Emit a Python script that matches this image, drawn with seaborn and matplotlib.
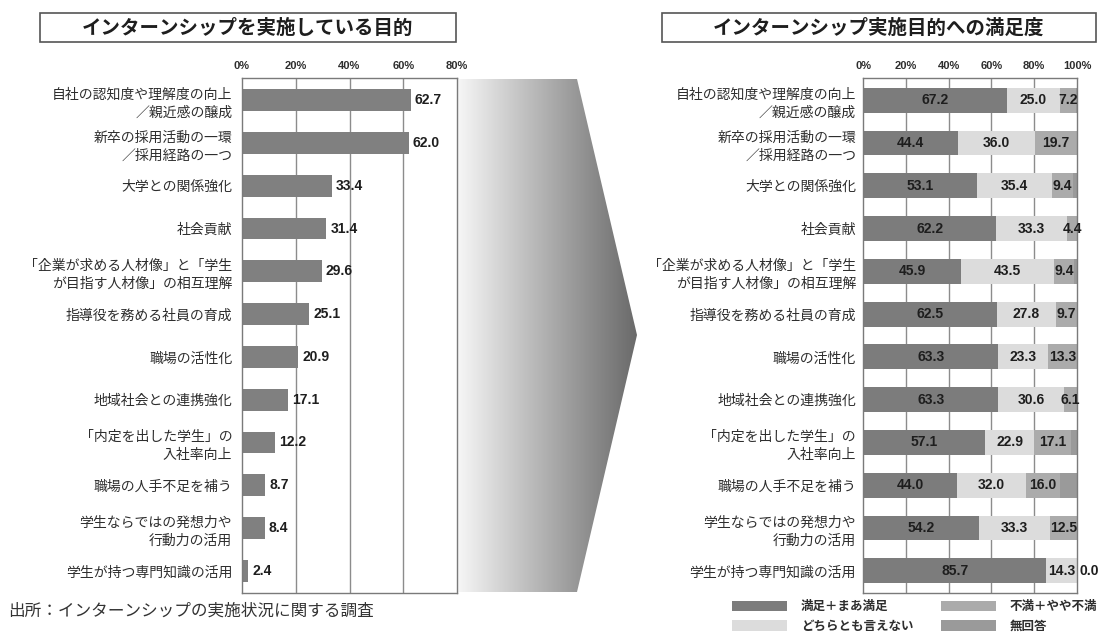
import numpy as np
import pandas as pd
import matplotlib
matplotlib.use("Agg")
import matplotlib.pyplot as plt
from matplotlib.patches import Polygon, Rectangle, Patch
from matplotlib.colors import LinearSegmentedColormap
import seaborn as sns

# ---- data ----
categories = [
    "自社の認知度や理解度の向上\n／親近感の醸成",
    "新卒の採用活動の一環\n／採用経路の一つ",
    "大学との関係強化",
    "社会貢献",
    "「企業が求める人材像」と「学生\nが目指す人材像」の相互理解",
    "指導役を務める社員の育成",
    "職場の活性化",
    "地域社会との連携強化",
    "「内定を出した学生」の\n入社率向上",
    "職場の人手不足を補う",
    "学生ならではの発想力や\n行動力の活用",
    "学生が持つ専門知識の活用",
]
purpose_pct = [62.7, 62.0, 33.4, 31.4, 29.6, 25.1, 20.9, 17.1, 12.2, 8.7, 8.4, 2.4]

satisfied = [67.2, 44.4, 53.1, 62.2, 45.9, 62.5, 63.3, 63.3, 57.1, 44.0, 54.2, 85.7]
neutral = [25.0, 36.0, 35.4, 33.3, 43.5, 27.8, 23.3, 30.6, 22.9, 32.0, 33.3, 14.3]
dissatisfied = [7.2, 19.7, 9.4, 4.4, 9.4, 9.7, 13.3, 6.1, 17.1, 16.0, 12.5, 0.0]
no_answer = [0.6, 0.0, 2.1, 0.1, 1.2, 0.0, 0.1, 0.0, 2.9, 8.0, 0.0, 0.0]

left_ticks = [0, 20, 40, 60, 80]
right_ticks = [0, 20, 40, 60, 80, 100]

title_left = "インターンシップを実施している目的"
title_right = "インターンシップ実施目的への満足度"
source_note = "出所：インターンシップの実施状況に関する調査"
legend_labels = ["満足＋まあ満足", "どちらとも言えない", "不満＋やや不満", "無回答"]

# ---- style ----
sns.set_theme(style="white")
plt.rcParams["font.family"] = ["Noto Sans CJK JP", "DejaVu Sans"]
NUM_FONT = ["Liberation Sans", "DejaVu Sans"]

C_SAT = "#7c7c7c"
C_NEU = "#dcdcdc"
C_DIS = "#ababab"
C_NA = "#9a9a9a"
C_BAR = "#808080"
C_GRID = "#8c8c8c"
C_TXT = "#2e2e2e"

W, H = 1101, 637
fig = plt.figure(figsize=(W / 100, H / 100), dpi=100)
fig.patch.set_facecolor("white")


def px_axes(x0, y0, x1, y1, **kw):
    return fig.add_axes([x0 / W, 1 - y1 / H, (x1 - x0) / W, (y1 - y0) / H], **kw)


# overlay for decorations (title boxes, arrow)
deco = px_axes(0, 0, W, H, zorder=0)
deco.axis("off")

# gradient arrow between the two panels
arrow = Polygon([(458, 79), (577, 79), (637, 335), (577, 592), (458, 592)],
                closed=True, facecolor="none", edgecolor="none")
deco.add_patch(arrow)
cmap = LinearSegmentedColormap.from_list("fade", ["#f6f6f6", "#c6c6c6", "#979797", "#6a6a6a"])
grad = np.linspace(0, 1, 256).reshape(1, -1)
im = deco.imshow(grad, extent=[458, 637, 592, 79], cmap=cmap, aspect="auto")
im.set_clip_path(arrow)
deco.set_xlim(0, W)
deco.set_ylim(H, 0)

# title boxes
for (x0, x1), title in [((40, 456), title_left), ((662, 1096), title_right)]:
    deco.add_patch(Rectangle((x0, 13), x1 - x0, 29, facecolor="white",
                             edgecolor="#555555", linewidth=1.2))
    deco.text((x0 + x1) / 2, 28, title, ha="center", va="center",
              fontsize=14, fontweight="bold", color="#1e1e1e")


def style_axis(ax, ticks, xmax):
    ax.set_xlim(0, xmax)
    ax.set_ylim(11.52, -0.52)
    ax.set_xticks(ticks)
    ax.set_xticklabels([f"{t}%" for t in ticks], fontsize=8, fontweight="bold",
                       color=C_TXT, family=NUM_FONT)
    ax.xaxis.tick_top()
    ax.tick_params(axis="x", length=0, pad=5)
    ax.tick_params(axis="y", length=0, pad=7, labelsize=10, labelcolor=C_TXT)
    for lbl in ax.get_yticklabels():
        lbl.set_linespacing(1.35)
    ax.set_xlabel("")
    ax.set_ylabel("")
    for t in ticks[1:-1]:
        ax.axvline(t, color=C_GRID, linewidth=1, zorder=0.5)
    for s in ax.spines.values():
        s.set_visible(True)
        s.set_color("#7a7a7a")
        s.set_linewidth(1)
    ax.set_facecolor("white")


# ---- left panel: purposes ----
axL = px_axes(242, 78, 457, 593, zorder=2)
df_left = pd.DataFrame({"category": categories, "pct": purpose_pct})
sns.barplot(data=df_left, x="pct", y="category", order=categories, orient="h",
            color=C_BAR, saturation=1, width=0.51, linewidth=0, ax=axL, zorder=2)
style_axis(axL, left_ticks, 80)
for i, v in enumerate(purpose_pct):
    axL.text(v + 1.6, i, f"{v:.1f}", va="center", ha="left", family=NUM_FONT,
             fontsize=10, fontweight="bold", color="#1e1e1e", zorder=3)

# ---- right panel: satisfaction (stacked) ----
axR = px_axes(863, 78, 1077, 593, zorder=2)
cum1 = np.array(satisfied)
cum2 = cum1 + np.array(neutral)
cum3 = cum2 + np.array(dissatisfied)
cum4 = cum3 + np.array(no_answer)
layers = [(cum4, C_NA), (cum3, C_DIS), (cum2, C_NEU), (cum1, C_SAT)]
for k, (vals, col) in enumerate(layers):
    d = pd.DataFrame({"category": categories, "pct": vals})
    sns.barplot(data=d, x="pct", y="category", order=categories, orient="h",
                color=col, saturation=1, width=0.58, linewidth=0, ax=axR, zorder=2 + k * 0.01)
style_axis(axR, right_ticks, 100)
axR.tick_params(axis="y", pad=5)

for i in range(len(categories)):
    segs = [(0, satisfied[i]), (cum1[i], neutral[i]), (cum2[i], dissatisfied[i])]
    for start, val in segs:
        if val < 2:
            x = start + val + 5.5
        else:
            x = start + val / 2
        axR.text(x, i, f"{val:.1f}", va="center", ha="center", family=NUM_FONT,
                 fontsize=10, fontweight="bold", color="#1e1e1e", zorder=4, clip_on=False)

# ---- legend ----
handles = [Patch(facecolor=C_SAT, edgecolor="none"),
           Patch(facecolor=C_NEU, edgecolor="none"),
           Patch(facecolor=C_DIS, edgecolor="none"),
           Patch(facecolor=C_NA, edgecolor="none")]
fig.legend(handles, legend_labels, ncol=2, loc="upper left",
           bbox_to_anchor=(732 / W, 1 - 600 / H), frameon=False,
           prop={"size": 9, "weight": "bold"}, handlelength=4.4, handleheight=0.9,
           handletextpad=1.1, columnspacing=2.2, labelspacing=0.55, borderpad=0,
           borderaxespad=0, labelcolor=C_TXT)

# ---- source note ----
fig.text(8 / W, 1 - 611 / H, source_note, ha="left", va="center",
         fontsize=12, color="#333333")

fig.savefig("out.png", dpi=100, facecolor="white")
